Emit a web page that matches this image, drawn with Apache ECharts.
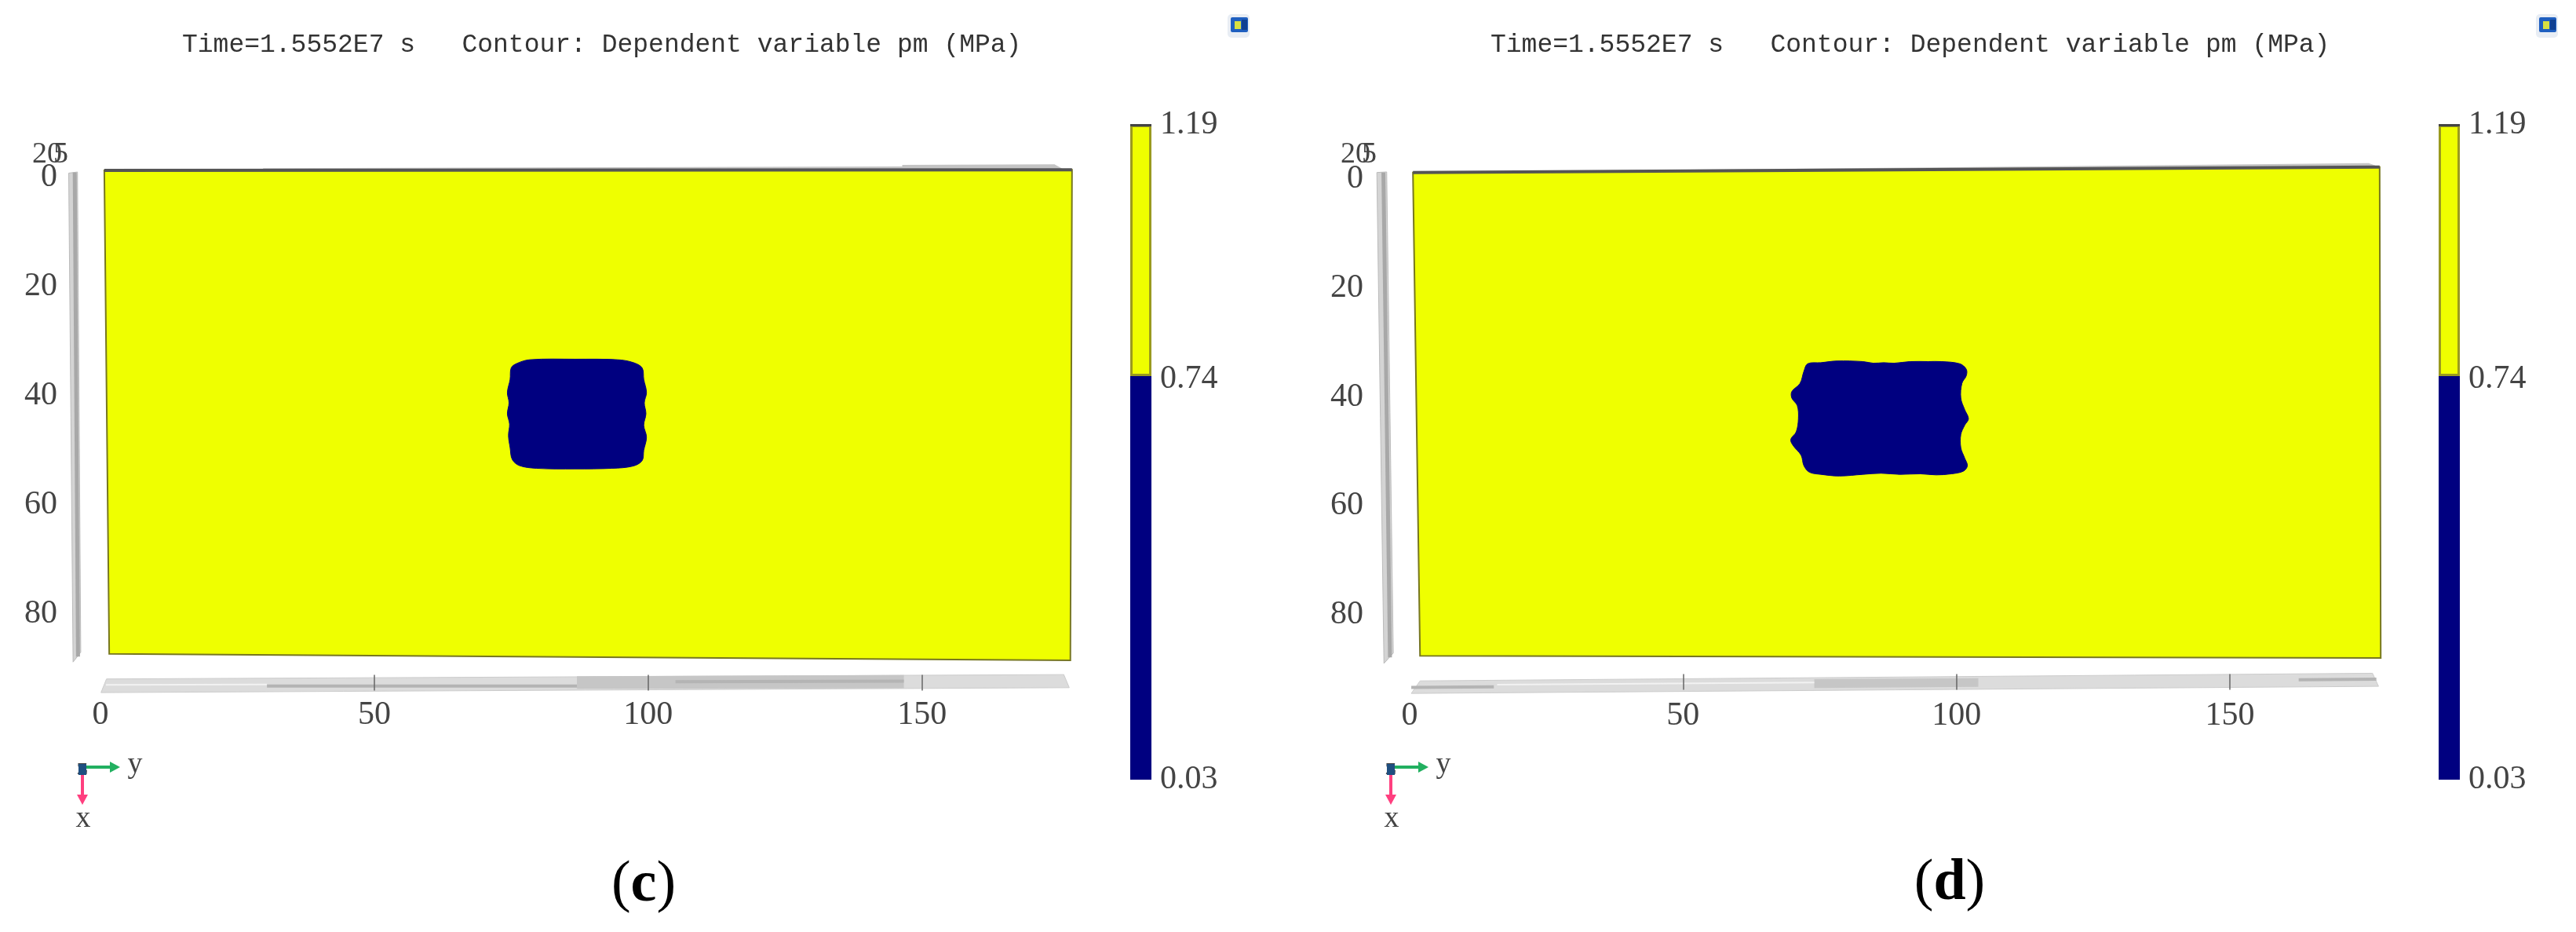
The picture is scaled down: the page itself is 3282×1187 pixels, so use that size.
<!DOCTYPE html>
<html>
<head>
<meta charset="utf-8">
<style>html,body{margin:0;padding:0;background:#fff}#main{width:3282px;height:1187px}</style>
<script src="https://cdn.jsdelivr.net/npm/echarts@6/dist/echarts.min.js"></script>
</head>
<body>
<div id="main"></div>
<script>
var titleText = 'Time=1.5552E7 s   Contour: Dependent variable pm (MPa)';
var xTicks = [0, 50, 100, 150];
var xTickMarks = [50, 100, 150];
var yTicks = [0, 20, 40, 60, 80];
var zTicks = ['20', '5'];
var barTicks = [0.03, 0.74, 1.19];
var barLow = [0.745];      // top of the navy part of the colour bar
var barHigh = [0.445];     // yellow part stacked on it
var barMax = [1.19];

// everything below is in axis units (y, x)
var plateC = [[0.7, -1.3], [177.4, -1.4], [177.1, 88.5], [1.6, 87.3]];
var plateD = [[0.6, -1.2], [177.4, -2.2], [177.6, 87.9], [1.9, 87.5]];
var topEdgeC = [[0.7, -1.3], [177.4, -1.4]];
var topEdgeD = [[0.6, -1.2], [177.4, -2.2]];
var slopeC = [[29.7, -1.7], [146.4, -2.0], [146.4, -2.3], [174.2, -2.4], [176, -1.4], [29.7, -1.4]];
var slopeD = [[15.4, -1.4], [103.2, -2.2], [175.4, -2.9], [177.4, -2.2], [15.4, -1.0]];
var blobC = [[75.0, 34.9], [76.0, 34.1], [78.4, 33.4], [86.7, 33.3], [94.4, 33.4], [97.2, 33.9], [98.9, 34.9],
  [99.2, 37.0], [99.7, 39.4], [99.3, 41.3], [99.6, 43.3], [99.2, 45.4], [99.7, 47.6], [99.2, 50.0], [98.9, 51.9],
  [97.2, 52.9], [93.4, 53.3], [86.7, 53.4], [79.6, 53.3], [76.5, 52.8], [75.2, 51.7], [74.8, 49.5], [74.5, 47.3],
  [74.7, 45.2], [74.3, 43.3], [74.6, 41.3], [74.3, 39.4], [74.8, 37.0]];
var blobD = [[72.8, 33.9], [75.2, 33.7], [78.1, 33.4], [82.9, 33.5], [84.8, 33.8], [86.7, 33.7], [88.6, 33.8],
  [91.5, 33.5], [94.8, 33.5], [97.2, 33.5], [100.6, 33.9], [101.8, 34.9], [101.8, 36.1], [101.0, 37.5], [100.8, 40.2],
  [101.5, 42.3], [102.2, 44.0], [101.5, 45.2], [100.8, 46.9], [100.8, 49.3], [101.5, 51.2], [102.0, 52.6], [101.3, 53.6],
  [99.1, 54.1], [96.3, 54.3], [93.4, 54.1], [89.6, 54.2], [86.2, 54.0], [82.9, 54.2], [78.6, 54.5], [75.2, 54.2],
  [73.1, 53.8], [72.1, 52.6], [71.6, 50.7], [70.2, 49.0], [69.7, 47.8], [70.7, 46.4], [71.1, 44.0], [70.9, 41.6],
  [69.9, 40.2], [69.9, 39.0], [71.4, 37.5], [72.1, 35.3]];
var stripC = [[1.1, 91.9], [0.1, 94.4], [176.9, 93.5], [175.9, 91.1]];
var stripD = [[1.9, 92.1], [0.3, 94.4], [177.2, 93.1], [176.1, 90.7]];
var bandC = [[87, 91.4], [87, 93.7], [146.7, 93.6], [146.7, 91.2]];
var bandD = [[74, 91.8], [74, 93.4], [104, 93.2], [104, 91.6]];
var stripeC1 = [[30.4, 93.2], [87, 93.2]];
var stripeC2 = [[105, 92.4], [146.7, 92.3]];
var stripeD1 = [[0.3, 93.3], [15.4, 93.2]];
var stripeD2 = [[162.6, 91.9], [176.8, 91.8]];
var glintC = [[1.0, 93.0], [30.4, 92.9]];
var glintD = [[16, 92.8], [74, 92.4]];
var wallC = [[-5.8, -0.8], [-4.2, -1.0], [-3.6, 87], [-5.0, 88.8]];
var wallD = [[-6.0, -1.2], [-4.2, -1.3], [-3.0, 87], [-4.7, 88.9]];
var wallLineC = [[-4.7, -0.9], [-4.1, 87.8]];
var wallLineD = [[-4.8, -1.2], [-3.6, 87.8]];

var serif = '"Liberation Serif"';
var mono = '"Liberation Mono"';
var textCol = '#444';
var yellow = '#efff00';
var navy = '#000080';

function shape(grid, kind, pts, style, z, smooth) {
  return {
    type: 'custom',
    xAxisIndex: grid,
    yAxisIndex: grid,
    z: z || 2,
    silent: true,
    data: pts,
    renderItem: function (params, api) {
      if (params.dataIndex !== 0) return null;
      return {
        type: kind,
        shape: { points: pts.map(function (p) { return api.coord(p); }), smooth: smooth || 0 },
        style: api.style(style)
      };
    }
  };
}

function plotAxes(grid, margin, tickOffset) {
  return {
    x: {
      type: 'value', gridIndex: grid, position: 'bottom', min: 0, max: 178, offset: tickOffset, z: 10, splitLine: { show: false },
      axisLine: { show: false, onZero: false },
      axisTick: { show: true, length: 20, customValues: xTickMarks, lineStyle: { color: '#666', width: 1.5 } },
      axisLabel: { margin: 38 - tickOffset, customValues: xTicks, fontFamily: serif, fontSize: 42, color: textCol }
    },
    y: {
      type: 'value', gridIndex: grid, min: 0, max: 90, inverse: true, splitLine: { show: false },
      axisLine: { show: false, onZero: false }, axisTick: { show: false },
      axisLabel: { margin: margin, customValues: yTicks, fontFamily: serif, fontSize: 42, color: textCol }
    }
  };
}

function barAxes(grid) {
  return {
    x: { type: 'category', gridIndex: grid, data: ['pm'], show: false },
    y: {
      type: 'value', gridIndex: grid, position: 'right', min: 0.03, max: 1.19, z: 10, splitLine: { show: false },
      axisLine: { show: false },
      axisTick: { show: true, inside: true, length: 27, customValues: [barMax[0]], lineStyle: { color: '#444', width: 3 } },
      axisLabel: {
        margin: 11, customValues: barTicks, fontFamily: serif, fontSize: 42, color: textCol,
        formatter: function (v) { return v.toFixed(2); }
      }
    }
  };
}

function barSeries(grid) {
  return [
    { type: 'bar', xAxisIndex: grid, yAxisIndex: grid, stack: 'pm' + grid, barWidth: '100%', silent: true, data: barLow,
      itemStyle: { color: navy } },
    { type: 'bar', xAxisIndex: grid, yAxisIndex: grid, stack: 'pm' + grid, barWidth: '100%', silent: true, data: barHigh,
      itemStyle: { color: yellow, borderColor: '#9a9a20', borderWidth: 3 } }
  ];
}

function panelSeries(grid, d) {
  var out = [
    shape(grid, 'polygon', d.wall, { fill: '#d4d4d4', stroke: '#bbb', lineWidth: 1 }),
    shape(grid, 'polyline', d.wallLine, { fill: null, stroke: '#a8a8a8', lineWidth: 5 }, 3),
    shape(grid, 'polygon', d.strip, { fill: '#dcdcdc', stroke: '#ccc', lineWidth: 1 }),
    shape(grid, 'polygon', d.band, { fill: '#c6c6c6', stroke: null }, 3),
    shape(grid, 'polyline', d.glint, { fill: null, stroke: '#f2f2f2', lineWidth: 2 }, 3),
    shape(grid, 'polygon', d.slope, { fill: '#c4c4c4', stroke: null }),
    shape(grid, 'polygon', d.plate, { fill: yellow, stroke: '#77771f', lineWidth: 2 }, 4),
    shape(grid, 'polyline', d.top, { fill: null, stroke: '#555', lineWidth: 4 }, 5),
    shape(grid, 'polygon', d.blob, { fill: navy, stroke: navy, lineWidth: 1 }, 6, 0.35)
  ];
  d.stripes.forEach(function (s) {
    out.push(shape(grid, 'polyline', s, { fill: null, stroke: '#b4b4b4', lineWidth: 4 }, 3));
  });
  return out;
}

// small coordinate triad, z-axis tick labels and the window icon
function decorations(dx) {
  var t = function (text, x, y, size, align, weight) {
    return {
      type: 'text', x: x + dx, y: y, z: 20,
      style: { text: text, fill: textCol, textAlign: align || 'center', textVerticalAlign: 'middle',
        font: (weight || '') + ' ' + size + 'px ' + serif }
    };
  };
  return [
    t(zTicks[0], 79, 197, 38, 'right'),
    t(zTicks[1], 87, 197, 38, 'right'),
    { type: 'line', z: 20, shape: { x1: 105 + dx, y1: 977, x2: 145 + dx, y2: 977 }, style: { stroke: '#22b060', lineWidth: 4 } },
    { type: 'polygon', z: 20, shape: { points: [[140 + dx, 970], [153 + dx, 977], [140 + dx, 984]] }, style: { fill: '#22b060' } },
    { type: 'line', z: 20, shape: { x1: 105 + dx, y1: 977, x2: 105 + dx, y2: 1018 }, style: { stroke: '#ff3f7f', lineWidth: 4 } },
    { type: 'polygon', z: 20, shape: { points: [[98 + dx, 1012], [105 + dx, 1025], [112 + dx, 1012]] }, style: { fill: '#ff3f7f' } },
    { type: 'rect', z: 21, shape: { x: 100 + dx, y: 973, width: 10, height: 14 }, style: { fill: '#1f4f80' } },
    t('z', 105, 978, 30, 'center', 'bold'),
    t('y', 172, 974, 38),
    t('x', 106, 1043, 38),
    { type: 'rect', z: 19, shape: { x: 1564 + dx, y: 18, width: 28, height: 30, r: 5 }, style: { fill: '#e8edf4' } },
    { type: 'rect', z: 20, shape: { x: 1568 + dx, y: 22, width: 22, height: 19, r: 2 }, style: { fill: '#1f5fc0' } },
    { type: 'rect', z: 21, shape: { x: 1582 + dx, y: 25, width: 7, height: 13 }, style: { fill: '#0f3f90' } },
    { type: 'rect', z: 22, shape: { x: 1573 + dx, y: 27, width: 8, height: 10 }, style: { fill: '#d8e040' } }
  ];
}

var axC = plotAxes(0, 55, 8);
var axD = plotAxes(2, 59, 6);
var axBarC = barAxes(1);
var axBarD = barAxes(3);

var captionRich = {
  p: { fontFamily: serif, fontSize: 74, fontWeight: 'normal', color: '#000' },
  b: { fontFamily: serif, fontSize: 74, fontWeight: 'bold', color: '#000' }
};

var myChart = echarts.init(document.getElementById('main'));
var option = {
  animation: false,
  backgroundColor: '#fff',
  title: [
    { text: titleText, left: 227, top: 36, textStyle: { fontFamily: mono, fontSize: 33, fontWeight: 'normal', color: '#333' } },
    { text: titleText, left: 1894, top: 36, textStyle: { fontFamily: mono, fontSize: 33, fontWeight: 'normal', color: '#333' } },
    { text: '{p|(}{b|c}{p|)}', left: 815, top: 1086, textAlign: 'center', textStyle: { rich: captionRich } },
    { text: '{p|(}{b|d}{p|)}', left: 2479, top: 1084, textAlign: 'center', textStyle: { rich: captionRich } }
  ],
  grid: [
    { left: 128, top: 226, width: 1242, height: 625.5 },
    { left: 1440, top: 159, width: 27, height: 834 },
    { left: 1796, top: 228, width: 1240, height: 624.6 },
    { left: 3107, top: 159, width: 27, height: 834 }
  ],
  xAxis: [axC.x, axBarC.x, axD.x, axBarD.x],
  yAxis: [axC.y, axBarC.y, axD.y, axBarD.y],
  series: [].concat(
    panelSeries(0, { wall: wallC, wallLine: wallLineC, strip: stripC, band: bandC, glint: glintC, slope: slopeC, plate: plateC, top: topEdgeC, blob: blobC, stripes: [stripeC1, stripeC2] }),
    barSeries(1),
    panelSeries(2, { wall: wallD, wallLine: wallLineD, strip: stripD, band: bandD, glint: glintD, slope: slopeD, plate: plateD, top: topEdgeD, blob: blobD, stripes: [stripeD1, stripeD2] }),
    barSeries(3)
  ),
  graphic: decorations(0).concat(decorations(1667))
};
myChart.setOption(option);
</script>
</body>
</html>
